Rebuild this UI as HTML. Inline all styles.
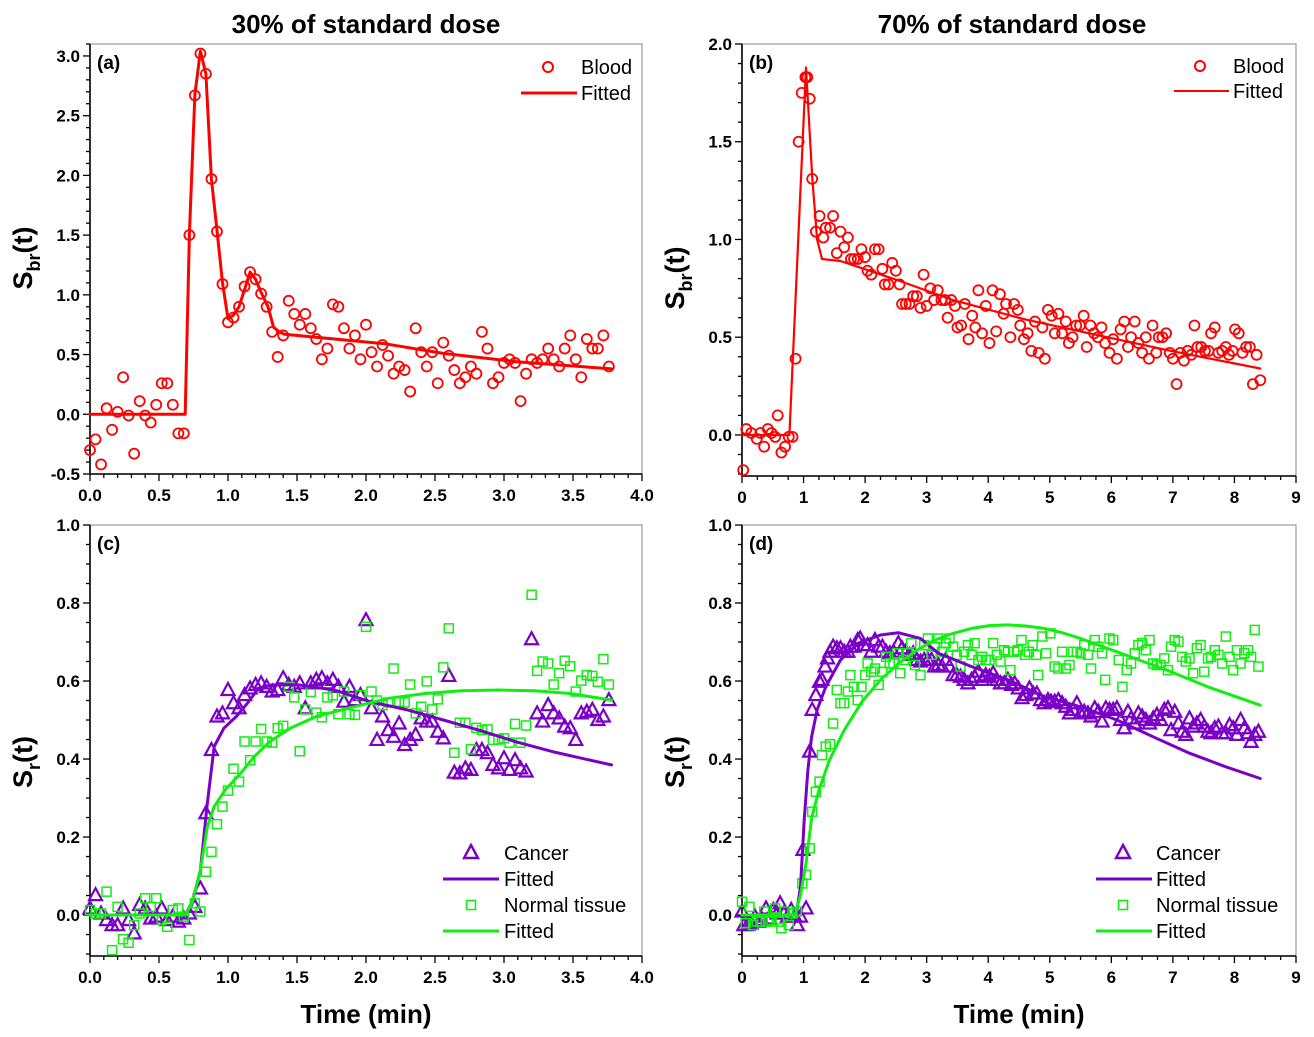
<!DOCTYPE html>
<html><head><meta charset="utf-8"><style>
html,body{margin:0;padding:0;background:#fff;}
svg{display:block;font-family:"Liberation Sans",Arial,sans-serif;}
</style></head><body>
<svg id="chart" width="1314" height="1037" viewBox="0 0 1314 1037" xmlns="http://www.w3.org/2000/svg">
<rect width="1314" height="1037" fill="#fff"/>
<text x="366" y="33" font-size="26" font-weight="bold" text-anchor="middle">30% of standard dose</text>
<text x="1012" y="33" font-size="26" font-weight="bold" text-anchor="middle">70% of standard dose</text>
<text x="366" y="1023" font-size="26" font-weight="bold" text-anchor="middle">Time (min)</text>
<text x="1019" y="1023" font-size="26" font-weight="bold" text-anchor="middle">Time (min)</text>
<text transform="translate(32,258) rotate(-90)" font-size="27" font-weight="bold" text-anchor="middle">S<tspan font-size="18" dy="8">br</tspan><tspan dy="-8">(t)</tspan></text>
<text transform="translate(684,278) rotate(-90)" font-size="27" font-weight="bold" text-anchor="middle">S<tspan font-size="18" dy="8">br</tspan><tspan dy="-8">(t)</tspan></text>
<text transform="translate(32,762) rotate(-90)" font-size="27" font-weight="bold" text-anchor="middle">S<tspan font-size="18" dy="8">r</tspan><tspan dy="-8">(t)</tspan></text>
<text transform="translate(684,762) rotate(-90)" font-size="27" font-weight="bold" text-anchor="middle">S<tspan font-size="18" dy="8">r</tspan><tspan dy="-8">(t)</tspan></text>
<g id="plots"></g>
<g font-size="20">
<circle cx="548" cy="67" r="5" fill="none" stroke="#ff0000" stroke-width="2"/>
<text x="581" y="74">Blood</text>
<line x1="521" y1="93" x2="577" y2="93" stroke="#ff0000" stroke-width="3"/>
<text x="581" y="100">Fitted</text>
</g>
<g font-size="20">
<circle cx="1200" cy="66" r="5" fill="none" stroke="#ff0000" stroke-width="2"/>
<text x="1233" y="73">Blood</text>
<line x1="1174" y1="91" x2="1229" y2="91" stroke="#ff0000" stroke-width="2"/>
<text x="1233" y="98">Fitted</text>
</g>
<g font-size="20">
<path d="M471,845 L478,858 L464,858 Z" fill="none" stroke="#7a00c8" stroke-width="2.4"/>
<text x="504" y="860">Cancer</text>
<line x1="443" y1="879" x2="499" y2="879" stroke="#7a00c8" stroke-width="3"/>
<text x="504" y="886">Fitted</text>
<rect x="466.5" y="900.5" width="9" height="9" fill="none" stroke="#11ee11" stroke-width="1.6"/>
<text x="504" y="912">Normal tissue</text>
<line x1="443" y1="931" x2="499" y2="931" stroke="#11ee11" stroke-width="3"/>
<text x="504" y="938">Fitted</text>
</g>
<g font-size="20">
<path d="M1123,845 L1130,858 L1116,858 Z" fill="none" stroke="#7a00c8" stroke-width="2.4"/>
<text x="1156" y="860">Cancer</text>
<line x1="1096" y1="879" x2="1152" y2="879" stroke="#7a00c8" stroke-width="3"/>
<text x="1156" y="886">Fitted</text>
<rect x="1118.5" y="900.5" width="9" height="9" fill="none" stroke="#11ee11" stroke-width="1.6"/>
<text x="1156" y="912">Normal tissue</text>
<line x1="1096" y1="931" x2="1152" y2="931" stroke="#11ee11" stroke-width="3"/>
<text x="1156" y="938">Fitted</text>
</g>
</svg>
<script>
const timesA = [0.00,0.04,0.08,0.12,0.16,0.20,0.24,0.28,0.32,0.36,0.40,0.44,0.48,0.52,0.56,0.60,0.64,0.68,0.72,0.76,0.80,0.84,0.88,0.92,0.96,1.00,1.04,1.08,1.12,1.16,1.20,1.24,1.28,1.32,1.36,1.40,1.44,1.48,1.52,1.56,1.60,1.64,1.68,1.72,1.76,1.80,1.84,1.88,1.92,1.96,2.00,2.04,2.08,2.12,2.16,2.20,2.24,2.28,2.32,2.36,2.40,2.44,2.48,2.52,2.56,2.60,2.64,2.68,2.72,2.76,2.80,2.84,2.88,2.92,2.96,3.00,3.04,3.08,3.12,3.16,3.20,3.24,3.28,3.32,3.36,3.40,3.44,3.48,3.52,3.56,3.60,3.64,3.68,3.72,3.76];
const bloodA = [-0.30,-0.21,-0.42,0.05,-0.13,0.02,0.31,-0.01,-0.33,0.11,-0.01,-0.07,0.08,0.26,0.26,0.08,-0.16,-0.16,1.50,2.67,3.02,2.85,1.97,1.53,1.09,0.77,0.81,0.90,1.07,1.19,1.13,1.01,0.90,0.69,0.48,0.66,0.95,0.84,0.75,0.84,0.72,0.63,0.46,0.55,0.92,0.90,0.72,0.55,0.66,0.46,0.75,0.52,0.40,0.58,0.49,0.34,0.40,0.37,0.19,0.72,0.52,0.40,0.52,0.26,0.60,0.49,0.37,0.26,0.31,0.40,0.34,0.69,0.55,0.26,0.31,0.43,0.46,0.43,0.11,0.34,0.46,0.43,0.46,0.55,0.46,0.40,0.55,0.66,0.46,0.31,0.63,0.55,0.55,0.66,0.40];
const fitA = [[0,0],[0.69,0],[0.72,1.51],[0.76,2.68],[0.80,3.04],[0.84,2.85],[0.88,1.97],[0.92,1.54],[0.96,1.10],[1.00,0.80],[1.04,0.83],[1.08,0.90],[1.13,1.08],[1.16,1.19],[1.20,1.13],[1.24,1.02],[1.29,0.90],[1.33,0.73],[1.37,0.69],[1.41,0.67],[1.77,0.63],[2.14,0.59],[2.56,0.51],[3.09,0.44],[3.78,0.38]];

const bloodB = [[0.02,-0.18],[0.07,0.03],[0.15,0.01],[0.24,-0.02],[0.30,0.01],[0.36,-0.06],[0.42,0.03],[0.48,0.01],[0.54,-0.01],[0.58,0.10],[0.64,-0.09],[0.70,-0.06],[0.76,-0.01],[0.82,-0.01],[0.87,0.39],[0.92,1.50],[0.97,1.75],[1.03,1.83],[1.06,1.83],[1.10,1.72],[1.14,1.31],[1.20,1.04],[1.26,1.12],[1.32,1.01],[1.36,1.06],[1.43,1.06],[1.48,1.12],[1.54,0.93],[1.60,1.04],[1.66,0.96],[1.72,1.01],[1.77,0.90],[1.82,0.90],[1.88,0.90],[1.94,0.95],[2.00,0.91],[2.04,0.84],[2.10,0.82],[2.16,0.95],[2.22,0.95],[2.28,0.85],[2.32,0.77],[2.38,0.77],[2.44,0.88],[2.50,0.84],[2.56,0.77],[2.60,0.67],[2.66,0.67],[2.72,0.67],[2.78,0.71],[2.84,0.71],[2.90,0.65],[2.95,0.82],[3.00,0.66],[3.06,0.75],[3.12,0.69],[3.18,0.74],[3.24,0.69],[3.30,0.69],[3.34,0.60],[3.40,0.69],[3.46,0.66],[3.50,0.55],[3.56,0.56],[3.62,0.67],[3.68,0.49],[3.74,0.61],[3.79,0.55],[3.84,0.74],[3.90,0.52],[3.96,0.66],[4.02,0.47],[4.07,0.74],[4.13,0.53],[4.19,0.72],[4.25,0.62],[4.29,0.67],[4.36,0.50],[4.42,0.67],[4.48,0.64],[4.52,0.56],[4.58,0.49],[4.64,0.52],[4.70,0.43],[4.76,0.58],[4.82,0.42],[4.88,0.55],[4.92,0.39],[4.97,0.64],[5.03,0.61],[5.08,0.52],[5.14,0.62],[5.20,0.52],[5.26,0.58],[5.31,0.47],[5.37,0.50],[5.43,0.56],[5.49,0.56],[5.55,0.61],[5.60,0.45],[5.66,0.56],[5.72,0.52],[5.78,0.50],[5.84,0.55],[5.90,0.47],[5.97,0.42],[6.03,0.49],[6.09,0.39],[6.15,0.54],[6.21,0.58],[6.27,0.45],[6.32,0.50],[6.38,0.58],[6.44,0.47],[6.50,0.42],[6.56,0.50],[6.61,0.39],[6.67,0.56],[6.73,0.42],[6.77,0.50],[6.83,0.50],[6.89,0.52],[6.95,0.42],[7.00,0.39],[7.06,0.26],[7.12,0.42],[7.18,0.38],[7.24,0.43],[7.30,0.41],[7.35,0.56],[7.40,0.45],[7.46,0.45],[7.52,0.43],[7.58,0.43],[7.62,0.52],[7.68,0.55],[7.74,0.42],[7.80,0.43],[7.86,0.45],[7.91,0.41],[7.97,0.43],[8.01,0.54],[8.07,0.52],[8.13,0.42],[8.19,0.45],[8.25,0.45],[8.30,0.26],[8.36,0.41],[8.42,0.28]];
const fitB = [[0,0],[0.77,0],[1.04,1.88],[1.14,1.32],[1.22,1.00],[1.30,0.90],[1.60,0.89],[2.54,0.79],[3.43,0.69],[4.61,0.59],[5.79,0.51],[6.97,0.43],[8.42,0.34]];

const cancerC = [0.017,0.051,0.004,-0.013,-0.026,-0.026,0.017,-0.013,-0.047,0.026,0.017,-0.009,-0.004,0.017,-0.013,-0.004,-0.017,-0.009,0.004,0.021,0.068,0.261,0.423,0.509,0.517,0.577,0.543,0.530,0.564,0.581,0.590,0.594,0.585,0.573,0.577,0.607,0.590,0.585,0.594,0.530,0.594,0.603,0.607,0.594,0.603,0.585,0.547,0.585,0.551,0.564,0.756,0.530,0.449,0.509,0.474,0.457,0.491,0.436,0.449,0.462,0.504,0.496,0.496,0.470,0.453,0.613,0.365,0.363,0.376,0.372,0.423,0.423,0.415,0.385,0.376,0.402,0.372,0.397,0.376,0.368,0.707,0.517,0.496,0.538,0.517,0.504,0.483,0.479,0.449,0.517,0.521,0.526,0.500,0.509,0.551];
const normalC = [0.013,0.004,0.004,0.060,-0.090,0.021,-0.062,-0.071,-0.026,0.004,0.043,0.021,0.043,-0.013,-0.030,0.013,0.017,-0.004,-0.064,0.030,0.009,0.111,0.162,0.233,0.278,0.319,0.375,0.342,0.445,0.397,0.445,0.477,0.445,0.442,0.479,0.485,0.585,0.558,0.420,0.527,0.572,0.519,0.507,0.558,0.563,0.515,0.573,0.515,0.513,0.564,0.739,0.573,0.550,0.538,0.545,0.632,0.547,0.545,0.591,0.517,0.534,0.599,0.527,0.553,0.635,0.735,0.416,0.493,0.493,0.425,0.480,0.474,0.476,0.449,0.450,0.453,0.442,0.490,0.442,0.486,0.821,0.626,0.650,0.645,0.591,0.620,0.652,0.638,0.573,0.601,0.615,0.613,0.598,0.656,0.591];
const fitCancerC = [[0,0],[0.69,0],[0.74,0.03],[0.80,0.115],[0.85,0.286],[0.90,0.432],[0.97,0.479],[1.06,0.509],[1.14,0.543],[1.22,0.581],[1.32,0.590],[1.51,0.590],[1.77,0.577],[2.03,0.547],[2.30,0.526],[2.56,0.500],[2.82,0.474],[3.09,0.444],[3.35,0.419],[3.56,0.402],[3.78,0.385]];
const fitNormalC = [[0,0],[0.69,0],[0.74,0.03],[0.80,0.115],[0.85,0.226],[0.90,0.278],[0.98,0.321],[1.09,0.363],[1.19,0.406],[1.30,0.444],[1.45,0.479],[1.64,0.509],[1.90,0.533],[2.17,0.556],[2.43,0.568],[2.69,0.575],[2.96,0.577],[3.22,0.575],[3.48,0.568],[3.78,0.551]];

const timesDC = [0.00,0.03,0.09,0.15,0.21,0.27,0.33,0.39,0.45,0.51,0.57,0.62,0.68,0.74,0.80,0.86,0.90,0.95,0.99,1.04,1.10,1.14,1.20,1.26,1.30,1.35,1.39,1.43,1.48,1.54,1.60,1.66,1.72,1.76,1.82,1.88,1.92,1.98,2.04,2.10,2.16,2.22,2.28,2.34,2.40,2.46,2.54,2.60,2.66,2.72,2.78,2.84,2.90,2.96,3.02,3.08,3.13,3.19,3.25,3.31,3.37,3.43,3.49,3.55,3.61,3.67,3.73,3.78,3.84,3.90,3.96,4.02,4.08,4.14,4.20,4.26,4.32,4.38,4.43,4.49,4.55,4.61,4.67,4.73,4.79,4.85,4.91,4.97,5.02,5.08,5.14,5.20,5.26,5.32,5.38,5.44,5.50,5.56,5.62,5.67,5.73,5.79,5.85,5.91,5.97,6.03,6.09,6.15,6.21,6.27,6.32,6.38,6.44,6.50,6.56,6.62,6.68,6.74,6.80,6.86,6.92,6.97,7.03,7.09,7.15,7.21,7.27,7.33,7.39,7.45,7.51,7.57,7.62,7.68,7.74,7.80,7.86,7.92,7.98,8.04,8.10,8.16,8.22,8.27,8.33,8.39];
const cancerD = [0.009,-0.026,-0.026,-0.021,-0.004,-0.017,-0.013,0.017,-0.009,0.013,0.004,0.030,0.004,-0.004,0.013,-0.004,-0.026,-0.004,0.167,0.017,0.419,0.526,0.564,0.598,0.603,0.637,0.658,0.675,0.688,0.684,0.684,0.675,0.675,0.688,0.688,0.705,0.709,0.692,0.692,0.675,0.705,0.688,0.688,0.675,0.671,0.675,0.697,0.684,0.675,0.667,0.671,0.654,0.650,0.654,0.654,0.654,0.637,0.641,0.637,0.654,0.637,0.615,0.615,0.611,0.603,0.594,0.603,0.611,0.624,0.603,0.615,0.611,0.620,0.603,0.594,0.594,0.603,0.590,0.594,0.581,0.556,0.564,0.581,0.568,0.568,0.551,0.543,0.551,0.547,0.547,0.551,0.543,0.534,0.517,0.526,0.543,0.517,0.521,0.517,0.509,0.530,0.521,0.496,0.530,0.526,0.526,0.530,0.500,0.479,0.521,0.504,0.491,0.517,0.509,0.500,0.491,0.504,0.513,0.500,0.526,0.530,0.474,0.521,0.491,0.470,0.462,0.504,0.483,0.491,0.500,0.483,0.470,0.466,0.479,0.483,0.466,0.466,0.487,0.479,0.462,0.500,0.479,0.466,0.444,0.462,0.470];
const normalD = [[0.00,0.034],[0.06,-0.021],[0.12,0.021],[0.18,-0.026],[0.24,-0.017],[0.30,-0.017],[0.36,0.009],[0.42,-0.017],[0.48,-0.013],[0.54,0.017],[0.60,-0.017],[0.64,-0.034],[0.70,0.009],[0.76,-0.026],[0.82,0.004],[0.89,0.009],[0.98,0.081],[1.04,0.103],[1.10,0.171],[1.14,0.265],[1.20,0.316],[1.26,0.342],[1.30,0.410],[1.36,0.432],[1.43,0.438],[1.48,0.491],[1.54,0.577],[1.60,0.543],[1.66,0.543],[1.72,0.573],[1.76,0.615],[1.82,0.585],[1.88,0.551],[1.94,0.585],[2.00,0.615],[2.04,0.645],[2.10,0.624],[2.16,0.632],[2.22,0.590],[2.28,0.624],[2.34,0.662],[2.40,0.645],[2.46,0.645],[2.52,0.671],[2.57,0.620],[2.63,0.654],[2.69,0.671],[2.75,0.697],[2.81,0.641],[2.90,0.615],[2.96,0.692],[3.02,0.709],[3.08,0.667],[3.13,0.688],[3.19,0.709],[3.25,0.675],[3.31,0.697],[3.37,0.709],[3.43,0.688],[3.49,0.667],[3.55,0.637],[3.61,0.675],[3.67,0.692],[3.73,0.667],[3.78,0.697],[3.84,0.654],[3.90,0.662],[3.96,0.654],[4.02,0.654],[4.08,0.697],[4.14,0.667],[4.20,0.650],[4.26,0.679],[4.32,0.675],[4.36,0.628],[4.42,0.675],[4.48,0.679],[4.54,0.705],[4.60,0.667],[4.66,0.675],[4.72,0.692],[4.78,0.667],[4.81,0.615],[4.88,0.714],[4.94,0.671],[5.01,0.722],[5.08,0.637],[5.14,0.632],[5.20,0.675],[5.26,0.632],[5.32,0.641],[5.38,0.675],[5.44,0.675],[5.50,0.671],[5.56,0.692],[5.62,0.667],[5.67,0.632],[5.73,0.705],[5.79,0.688],[5.85,0.671],[5.90,0.603],[5.97,0.709],[6.03,0.705],[6.12,0.654],[6.18,0.585],[6.25,0.628],[6.32,0.645],[6.38,0.671],[6.44,0.692],[6.50,0.697],[6.56,0.679],[6.62,0.705],[6.68,0.645],[6.74,0.641],[6.80,0.641],[6.86,0.658],[6.92,0.628],[6.97,0.688],[7.03,0.705],[7.09,0.701],[7.15,0.662],[7.21,0.650],[7.27,0.658],[7.33,0.620],[7.39,0.684],[7.45,0.692],[7.51,0.624],[7.57,0.658],[7.62,0.662],[7.68,0.679],[7.74,0.667],[7.80,0.645],[7.86,0.714],[7.92,0.662],[7.98,0.628],[8.04,0.679],[8.10,0.645],[8.16,0.671],[8.22,0.679],[8.27,0.662],[8.33,0.731],[8.39,0.637]];
const fitCancerD = [[0,0],[0.83,0],[0.89,0.01],[0.95,0.073],[1.01,0.244],[1.07,0.372],[1.13,0.457],[1.22,0.526],[1.36,0.585],[1.60,0.654],[1.89,0.697],[2.25,0.718],[2.54,0.724],[2.90,0.709],[3.19,0.671],[3.73,0.637],[4.32,0.603],[4.91,0.560],[5.50,0.534],[6.09,0.500],[6.68,0.457],[7.27,0.415],[7.86,0.380],[8.42,0.350]];
const fitNormalD = [[0,0],[0.86,0],[0.95,0.051],[1.04,0.132],[1.13,0.248],[1.25,0.320],[1.42,0.397],[1.66,0.474],[1.95,0.547],[2.25,0.603],[2.54,0.645],[2.84,0.679],[3.13,0.705],[3.43,0.722],[3.73,0.735],[4.02,0.742],[4.32,0.744],[4.61,0.741],[4.91,0.735],[5.20,0.724],[5.50,0.709],[5.79,0.692],[6.09,0.675],[6.38,0.658],[6.97,0.624],[7.57,0.585],[8.42,0.538]];

const ticksA_x = ["0.0","0.5","1.0","1.5","2.0","2.5","3.0","3.5","4.0"];
const ticksA_y = ["-0.5","0.0","0.5","1.0","1.5","2.0","2.5","3.0"];
const ticksB_x = ["0","1","2","3","4","5","6","7","8","9"];
const ticksB_y = ["0.0","0.5","1.0","1.5","2.0"];
const ticksC_y = ["0.0","0.2","0.4","0.6","0.8","1.0"];

const NS = "http://www.w3.org/2000/svg";
const root = document.getElementById('plots');
function mk(tag, attrs, parent){
  const e = document.createElementNS(NS, tag);
  for (const k in attrs) e.setAttribute(k, attrs[k]);
  (parent||root).appendChild(e);
  return e;
}
const RED="#ff0000", PUR="#7a00c8", GRN="#11ee11";

function makePanel(p){
  const g = mk('g', {});
  
  
  p.sx = v => p.L + (v - p.x0) / (p.x1 - p.x0) * (p.R - p.L);
  p.sy = v => p.B - (v - p.y0) / (p.y1 - p.y0) * (p.B - p.T);
  const frame = mk('rect', {x:p.L, y:p.T, width:p.R-p.L, height:p.B-p.T, fill:'none', stroke:'#999', 'stroke-width':1.2}, g);
  
  
  const ax = mk('line', {x1:p.L, y1:p.B, x2:p.R, y2:p.B, stroke:'#000', 'stroke-width':1.6}, g);
  
  
  const ay = mk('line', {x1:p.L, y1:p.T, x2:p.L, y2:p.B, stroke:'#000', 'stroke-width':1.6}, g);
  
  
  for (let v = p.x0; v <= p.x1 + 1e-6; v += p.xminor){
    const major = Math.abs(v/p.xmajor - Math.round(v/p.xmajor)) < 1e-6;
    const t = mk('line', {x1:p.sx(v), x2:p.sx(v), y1:p.B, y2:p.B + (major?7:4), stroke:'#000', 'stroke-width':1.3}, g);
    
    
  }
  p.xlabels.forEach((s, i) => {
    const v = p.x0 + i * p.xmajor;
    const t = mk('text', {x:p.sx(v), y:p.B + 27, 'font-size':17, 'font-weight':'bold', 'text-anchor':'middle'}, g);
    t.textContent = s;
    
    
  });
  for (let v = p.yfirst; v <= p.y1 + 1e-6; v += p.yminor){
    const major = Math.abs((v - p.ylab0)/p.ymajor - Math.round((v - p.ylab0)/p.ymajor)) < 1e-6;
    const t = mk('line', {x1:p.L - (major?7:4), x2:p.L, y1:p.sy(v), y2:p.sy(v), stroke:'#000', 'stroke-width':1.3}, g);
    
    
  }
  p.ylabels.forEach((s, i) => {
    const v = p.ylab0 + i * p.ymajor;
    const t = mk('text', {x:p.L - 10, y:p.sy(v) + 6, 'font-size':17, 'font-weight':'bold', 'text-anchor':'end'}, g);
    t.textContent = s;
    
    
  });
  const lab = mk('text', {x:p.L + 7, y:p.T + 25, 'font-size':19, 'font-weight':'bold'}, g);
  lab.textContent = '(' + p.id + ')';
  
  
  p.g = g;
  return p;
}
function circles(p, xs, ys, name){
  for (let i = 0; i < Math.min(xs.length, ys.length); i++){
    const c = mk('circle', {cx:p.sx(xs[i]), cy:p.sy(ys[i]), r:5, fill:'none', stroke:RED, 'stroke-width':1.8}, p.g);
    
    
  }
}
function tris(p, xs, ys, name){
  for (let i = 0; i < Math.min(xs.length, ys.length); i++){
    const x = p.sx(xs[i]), y = p.sy(ys[i]);
    const t = mk('path', {d:`M${x},${y-7} L${x+6.5},${y+5} L${x-6.5},${y+5} Z`, fill:'none', stroke:PUR, 'stroke-width':2.2}, p.g);
    
    
  }
}
function squares(p, xs, ys, name){
  for (let i = 0; i < Math.min(xs.length, ys.length); i++){
    const s = mk('rect', {x:p.sx(xs[i]) - 4.5, y:p.sy(ys[i]) - 4.5, width:9, height:9, fill:'none', stroke:GRN, 'stroke-width':1.5}, p.g);
    
    
  }
}
function line(p, pts, color, w, name){
  const d = pts.map((q, i) => (i ? 'L' : 'M') + p.sx(q[0]).toFixed(1) + ',' + p.sy(q[1]).toFixed(1)).join(' ');
  const l = mk('path', {d, fill:'none', stroke:color, 'stroke-width':w, 'stroke-linejoin':'round', 'stroke-linecap':'round'}, p.g);
  
  
}
const col = (arr, k) => arr.map(q => q[k]);

const pa = makePanel({id:'a', L:90, R:642, T:44, B:474, x0:0, x1:4, y0:-0.5, y1:3.1, xmajor:0.5, xminor:0.1, ymajor:0.5, yminor:0.1, yfirst:-0.5, ylab0:-0.5, xlabels:ticksA_x, ylabels:ticksA_y});
circles(pa, timesA, bloodA, 'blood-point');
line(pa, fitA, RED, 3, 'blood-fitted-line');

const pb = makePanel({id:'b', L:742, R:1296, T:44, B:476, x0:0, x1:9, y0:-0.21, y1:2.0, xmajor:1, xminor:0.25, ymajor:0.5, yminor:0.1, yfirst:-0.2, ylab0:0, xlabels:ticksB_x, ylabels:ticksB_y});
circles(pb, col(bloodB,0), col(bloodB,1), 'blood-point');
line(pb, fitB, RED, 2.2, 'blood-fitted-line');

const pc = makePanel({id:'c', L:90, R:642, T:525, B:956, x0:0, x1:4, y0:-0.105, y1:1.0, xmajor:0.5, xminor:0.1, ymajor:0.2, yminor:0.05, yfirst:-0.1, ylab0:0, xlabels:ticksA_x, ylabels:ticksC_y});
tris(pc, timesA, cancerC, 'cancer-point');
squares(pc, timesA, normalC, 'normal-tissue-point');
line(pc, fitCancerC, PUR, 3, 'cancer-fitted-line');
line(pc, fitNormalC, GRN, 3, 'normal-fitted-line');

const pd = makePanel({id:'d', L:742, R:1296, T:525, B:956, x0:0, x1:9, y0:-0.105, y1:1.0, xmajor:1, xminor:0.25, ymajor:0.2, yminor:0.05, yfirst:-0.1, ylab0:0, xlabels:ticksB_x, ylabels:ticksC_y});
tris(pd, timesDC, cancerD, 'cancer-point');
squares(pd, col(normalD,0), col(normalD,1), 'normal-tissue-point');
line(pd, fitCancerD, PUR, 3, 'cancer-fitted-line');
line(pd, fitNormalD, GRN, 3, 'normal-fitted-line');
</script>
</body></html>
